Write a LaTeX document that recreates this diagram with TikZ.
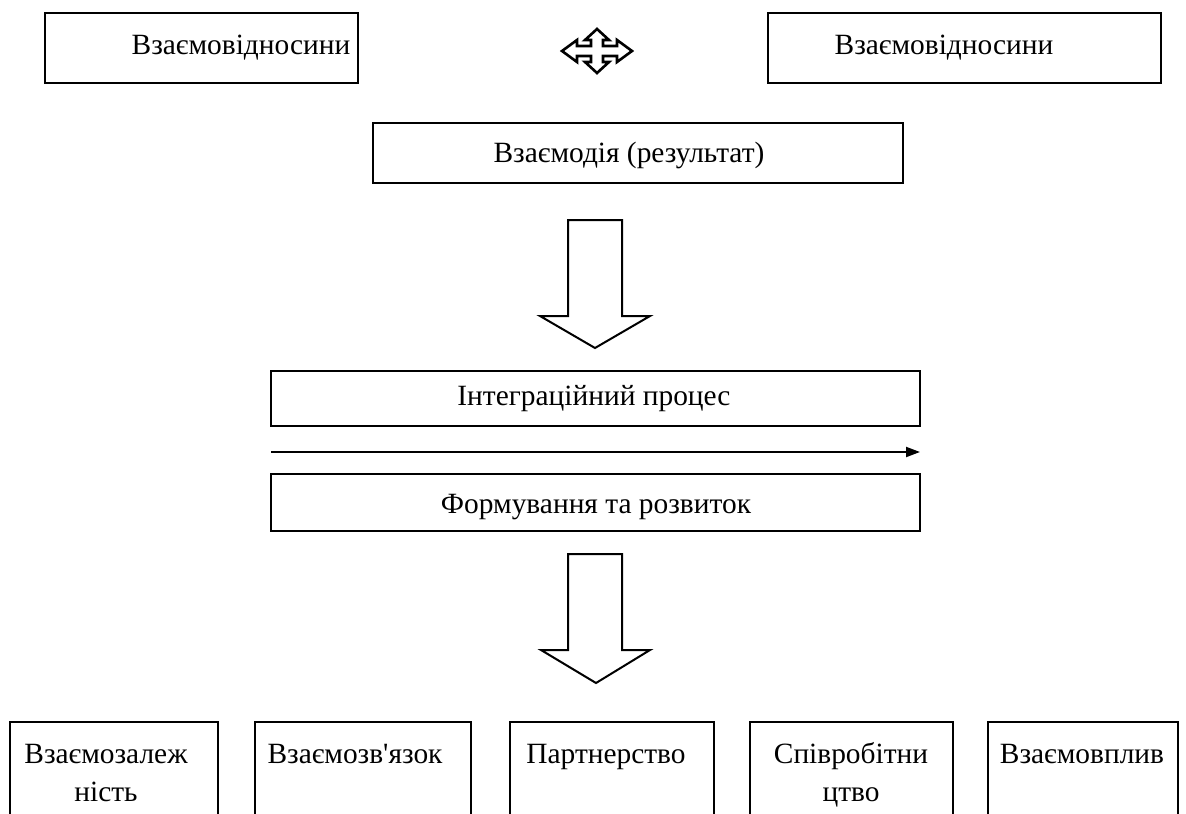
\documentclass[tikz,border=0pt]{standalone}
\usepackage{fontspec}
\setmainfont{Liberation Serif}
\newfontfamily\tnr{Liberation Serif}
\usetikzlibrary{arrows.meta,fit}
\begin{document}
\begin{tikzpicture}[x=0.5pt,y=-0.5pt,
  box/.style={draw, line width=1pt, inner sep=0pt},
  txt/.style={anchor=base, inner sep=0pt, font=\tnr\fontsize{14.7}{17}\selectfont},
  blockarrow/.style={draw, line width=1pt, line join=miter, fill=white},
  flow/.style={draw, line width=1pt, -{Triangle[length=7pt,width=5pt]}}]
\useasboundingbox (0,0) rectangle (1186,813);
\clip (0,0) rectangle (1186,813);
% top row
\node[box, fit={(45,13) (358,83)}] (b1) {};
\node[txt] (t1) at (241,55) {Взаємовідносини};
\node[box, fit={(768,13) (1161,83)}] (b2) {};
\node[txt] (t2) at (944,55) {Взаємовідносини};
% four-way symbol
\begin{scope}[shift={(597,51)}]
\draw[line width=1.3pt, line join=miter]
  (-35,0) -- (-20,-11) -- (-20,-5) -- (-6,-5) -- (-6,-11) -- (-12,-11) -- (0,-22)
  -- (12,-11) -- (6,-11) -- (6,-5) -- (20,-5) -- (20,-11) -- (35,0)
  -- (20,11) -- (20,5) -- (6,5) -- (6,11) -- (12,11) -- (0,22)
  -- (-12,11) -- (-6,11) -- (-6,5) -- (-20,5) -- (-20,11) -- cycle;
\end{scope}
% result
\node[box, fit={(373,123) (903,183)}] (b3) {};
\node[txt] (t3) at (629,162) {Взаємодія (результат)};
% block arrow 1
\draw[blockarrow] (568,220) -- (622,220) -- (622,316) -- (650,316) -- (595,348)
  -- (540,316) -- (568,316) -- cycle;
% process
\node[box, fit={(271,371) (920,426)}] (b4) {};
\node[txt] (t4) at (594,405) {Інтеграційний процес};
\coordinate (ls) at (271,452);
\coordinate (le) at (920,452);
\draw[flow] (ls) -- (le);
\node[box, fit={(271,474) (920,531)}] (b5) {};
\node[txt] (t5) at (596,513) {Формування та розвиток};
% block arrow 2
\draw[blockarrow] (568,554) -- (622,554) -- (622,650) -- (650,650) -- (596,683)
  -- (541,650) -- (568,650) -- cycle;
% bottom row
\node[box, fit={(10,722) (218,830)}] (c1) {};
\node[txt] (u1a) at (106,763) {Взаємозалеж};
\node[txt] (u1b) at (106,801) {ність};
\node[box, fit={(255,722) (471,830)}] (c2) {};
\node[txt] (u2) at (355,763) {Взаємозв'язок};
\node[box, fit={(510,722) (714,830)}] (c3) {};
\node[txt] (u3) at (606,763) {Партнерство};
\node[box, fit={(750,722) (953,830)}] (c4) {};
\node[txt] (u4a) at (851,763) {Співробітни};
\node[txt] (u4b) at (851,801) {цтво};
\node[box, fit={(988,722) (1178,830)}] (c5) {};
\node[txt] (u5) at (1082,763) {Взаємовплив};
\end{tikzpicture}
\end{document}
